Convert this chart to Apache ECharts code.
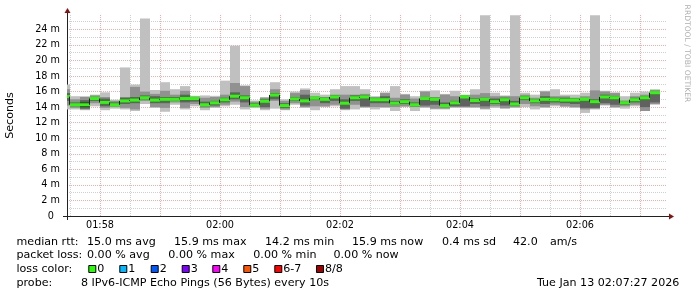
<!DOCTYPE html>
<html><head><meta charset="utf-8">
<script src="https://cdn.jsdelivr.net/npm/echarts@6/dist/echarts.min.js"></script>
<style>html,body{margin:0;padding:0;background:#fff}#c{width:697px;height:297px}</style>
</head><body><div id="c"></div>
<script>
// ---- data (SmokePing: 8 sorted ping RTTs per 10 s step, in ms) ----
const firstBarStart = '01:57:20';
const stepSec = 10;
const windowStart = '01:57:27';
const windowEnd = '02:07:27';
const ping1 = [13.7,13.7,13.6,14.1,13.6,13.8,13.7,13.5,14.4,13.9, 13.4,14.3,13.7,14.1,13.6,13.9,14.1,14.3,13.7,13.9, 13.6,13.8,13.6,14.3,13.9,13.6,14.0,14.1,13.6,13.7, 13.9,13.7,13.9,13.5,14.0,13.5,13.9,13.7,13.7,13.9, 13.9,13.9,13.7,13.9,13.8,13.9,14.0,13.7,13.9,14.1, 14.0,13.9,13.25,13.7,14.2,13.9,13.8,14.1,13.5,14.3];
const ping2 = [14.2,13.9,13.7,14.5,13.9,14.0,13.9,13.7,14.8,14.0, 13.9,14.6,13.9,14.4,13.9,14.0,14.3,14.7,14.0,14.0, 13.8,14.8,13.7,14.5,14.0,14.1,14.1,14.3,13.7,14.3, 14.0,14.0,14.0,14.0,14.1,14.0,14.0,13.8,13.8,14.0, 14.0,14.0,13.8,14.1,13.85,14.0,14.4,14.1,14.0,14.3, 14.1,14.0,13.7,13.8,14.3,14.0,14.1,14.3,13.5,14.4];
const ping3 = [14.8,14.1,13.8,14.8,14.1,14.2,14.4,14.5,15.0,14.5, 14.5,14.8,14.6,14.7,14.1,14.2,14.6,15.0,14.6,14.1, 14.0,15.0,13.9,14.8,14.2,14.9,14.5,14.8,13.8,14.8, 14.1,14.5,14.5,14.3,14.4,14.1,14.2,14.3,14.0,14.1, 14.1,14.4,14.1,14.4,14.2,14.2,14.9,14.5,14.4,14.6, 14.5,14.4,13.9,13.9,14.5,14.3,14.3,14.6,14.0,14.6];
const ping4 = [15.2,14.2,14.0,15.0,14.4,14.25,14.7,14.8,15.1,14.8, 14.9,14.95,14.9,15.0,14.25,14.45,14.9,15.3,15.1,14.2, 14.7,15.45,14.1,15.0,14.7,15.1,14.9,15.2,14.4,15.1, 15.2,14.9,14.9,14.45,14.6,14.2,15.0,14.9,14.1,14.5, 15.2,14.8,14.9,14.6,14.9,14.35,15.15,14.75,14.9,14.9, 14.85,14.85,14.9,14.6,15.2,15.1,14.5,14.9,15.1,15.8];
const ping5 = [15.5,14.4,14.6,15.15,14.8,14.35,14.9,15.0,15.3,15.0, 15.1,15.1,15.2,15.15,14.4,14.65,15.0,15.5,15.3,14.3, 14.85,15.6,14.3,15.15,14.9,15.2,15.05,15.4,14.6,15.3, 15.4,15.0,15.0,14.6,14.8,14.4,15.2,15.1,14.3,14.6, 15.35,14.9,15.1,14.8,15.0,14.5,15.25,14.9,15.05,15.0, 15.0,14.95,15.05,14.8,15.4,15.3,14.6,15.0,15.3,15.9];
const ping6 = [15.8,14.6,14.9,15.3,15.1,14.6,15.2,15.3,15.5,15.4, 15.3,15.3,15.6,15.25,14.7,14.8,15.2,15.9,15.5,14.5, 15.0,15.8,14.5,15.3,15.6,15.3,15.2,15.5,15.0,15.5, 15.5,15.1,15.4,14.8,15.0,14.6,15.3,15.2,14.6,14.8, 15.45,15.1,15.2,15.1,15.2,14.8,15.4,15.0,15.4,15.2, 15.2,15.1,15.1,15.0,15.6,15.4,14.7,15.2,15.4,16.0];
const ping7 = [16.3,15.0,15.3,15.5,15.3,14.8,15.3,16.6,16.0,15.7, 16.1,15.6,16.1,15.35,15.2,15.3,15.6,17.1,16.7,14.7, 15.2,16.3,14.8,15.8,16.2,15.4,15.3,15.6,15.6,15.6, 15.7,15.3,15.8,15.2,15.6,15.1,16.0,15.3,15.6,15.4, 15.5,15.6,15.8,15.4,15.4,15.4,15.6,15.2,16.0,15.4, 15.4,15.2,15.4,16.15,16.0,15.8,14.85,15.4,15.6,16.2];
const ping8 = [16.9,15.4,15.4,15.6,15.9,14.95,19.1,16.9,25.4,16.2, 17.2,16.3,16.7,15.45,15.5,15.45,17.4,21.9,16.8,14.85, 15.3,17.2,15.0,16.0,16.4,15.85,15.6,16.3,16.7,16.7, 16.3,15.4,15.9,16.7,15.7,15.4,16.1,16.15,15.7,16.1, 15.6,16.3,25.8,15.85,15.5,25.8,15.85,15.6,16.1,16.3, 15.6,15.6,15.85,25.8,16.1,15.9,15.4,15.85,16.0,16.3];
const median = [15.35,14.3,14.3,15.1,14.6,14.3,14.8,14.9,15.2,14.9, 15.0,15.0,15.1,15.1,14.3,14.55,14.95,15.4,15.2,14.25, 14.75,15.55,14.2,15.05,14.8,15.15,15.0,15.3,14.5,15.2, 15.3,14.95,14.95,14.5,14.7,14.3,15.1,15.0,14.2,14.55, 15.3,14.85,15.0,14.7,14.95,14.4,15.2,14.8,15.0,14.95, 14.9,14.9,15.0,14.7,15.3,15.2,14.55,14.95,15.2,15.85];

const yTicks = [0,2,4,6,8,10,12,14,16,18,20,22,24];
const yMinorTicks = [1,3,5,7,9,11,13,15,17,19,21,23,25];
const xTickLabels = ['01:58','02:00','02:02','02:04','02:06'];
const rttLabel = 'median rtt:';
const rttStats = ['15.0 ms avg','15.9 ms max','14.2 ms min','15.9 ms now','0.4 ms sd','42.0','am/s'];
const lossLabel = 'packet loss:';
const lossStats = ['0.00 % avg','0.00 % max','0.00 % min','0.00 % now'];
const lossColorLabel = 'loss color:';
const lossLabels = ['0','1','2','3','4','5','6-7','8/8'];
const lossColors = ['#26ff00','#00b8ff','#0059ff','#7e00ff','#ff00ff','#ff5500','#ff0000','#a10000'];
const probeLabel = 'probe:';
const probeText = '8 IPv6-ICMP Echo Pings (56 Bytes) every 10s';
const stampText = 'Tue Jan 13 02:07:27 2026';
const watermark = 'RRDTOOL / TOBI OETIKER';

// ---- helpers ----
function toSec(s){const p=s.split(':').map(Number);return p[0]*3600+p[1]*60+(p[2]||0);}
function fmtHM(sec){const h=Math.floor(sec/3600),m=Math.floor(sec%3600/60);return String(h).padStart(2,'0')+':'+String(m).padStart(2,'0');}
const t0 = toSec(firstBarStart);
const xMin = toSec(windowStart), xMax = toSec(windowEnd);
const majorX = []; for (let t=Math.ceil(xMin/60)*60; t<=xMax; t+=60) majorX.push(t);
const minorX = []; for (let t=Math.floor(xMin/60)*60+30; t<=xMax; t+=60) if (t>=xMin) minorX.push(t);
const labelX = xTickLabels.map(toSec);
const pings = [ping1,ping2,ping3,ping4,ping5,ping6,ping7,ping8];
const data = median.map((m,i)=>[t0+i*stepSec, t0+(i+1)*stepSec].concat(pings.map(p=>p[i])).concat([m]));

const FONT = '"DejaVu Sans", sans-serif';
const MAJOR = 'rgba(235,115,115,0.6)';
const MINOR = 'rgba(175,175,175,0.6)';
const AXIS = '#212121';
const ARROW = '#8b1010';
const smokeColors = ['#c0c0c0','#919191','#616161','#323232'];
const yMax = 25.84;

function renderItem(params, api){
  const i = params.dataIndex;
  const s = Math.max(api.value(0), xMin), e = Math.min(api.value(1), xMax);
  const x0 = api.coord([s,0])[0], x1 = api.coord([e,0])[0];
  const ch = [];
  for (let k=0;k<4;k++){
    const lo = api.value(2+k), hi = api.value(9-k);
    const yl = api.coord([s,lo])[1], yh = api.coord([s,hi])[1];
    ch.push({type:'rect', shape:{x:x0,y:yh,width:x1-x0,height:yl-yh}, style:{fill:smokeColors[k]}});
  }
  const ym = api.coord([s, api.value(10)])[1];
  if (i>0){
    const yp = api.coord([s, median[i-1]])[1];
    ch.push({type:'line', shape:{x1:x0-0.5,y1:yp,x2:x0-0.5,y2:ym}, style:{stroke:'#202020',lineWidth:1}});
  }
  ch.push({type:'rect', shape:{x:x0,y:ym-1.5,width:x1-x0,height:3}, style:{fill:lossColors[0]}});
  return {type:'group', children:ch};
}

// legend graphics
const g = [];
function txt(x,y,t,opt){g.push(Object.assign({type:'text', x:x, y:y, silent:true, style:{text:t, fill:'#000', fontSize:11.1, fontFamily:FONT, verticalAlign:'middle', align:'left'}}, opt||{}));}
const L1=241.7, L2=255.3, L3=269, L4=282.7;
txt(16.5,L1,rttLabel);
[87,174,265,352,442,513,550].forEach((x,k)=>txt(x,L1,rttStats[k]));
txt(16.5,L2,lossLabel);
[87,168.3,253.3,333.5].forEach((x,k)=>txt(x,L2,lossStats[k]));
txt(16.5,L3,lossColorLabel);
[88.3,119.3,150.7,181.7,212.3,243.3,274.3,316].forEach((x,k)=>{
  g.push({type:'rect', silent:true, shape:{x:x+0.5,y:265.5,width:7,height:7}, style:{fill:lossColors[k], stroke:'#000', lineWidth:1}});
  txt(x+9,L3,lossLabels[k]);
});
txt(16.5,L4,probeLabel);
txt(81,L4,probeText);
txt(537,L4,stampText);
g.push({type:'text', x:687, y:53.5, rotation:-Math.PI/2, silent:true, style:{text:watermark, fill:'#b0b0b0', fontSize:7.6, fontFamily:FONT, align:'center', verticalAlign:'middle'}});
// axis extensions & arrows (rrdtool style)
g.push({type:'line', silent:true, shape:{x1:63,y1:216.5,x2:67,y2:216.5}, style:{stroke:AXIS,lineWidth:1}});
g.push({type:'line', silent:true, shape:{x1:667,y1:216.5,x2:671,y2:216.5}, style:{stroke:AXIS,lineWidth:1}});
g.push({type:'line', silent:true, shape:{x1:67.5,y1:216,x2:67.5,y2:220}, style:{stroke:AXIS,lineWidth:1}});
g.push({type:'line', silent:true, shape:{x1:67.5,y1:11,x2:67.5,y2:15}, style:{stroke:AXIS,lineWidth:1}});
g.push({type:'polygon', silent:true, shape:{points:[[669,213.5],[669,219.5],[674,216.5]]}, style:{fill:ARROW}});
g.push({type:'polygon', silent:true, shape:{points:[[64.5,13],[70.5,13],[67.5,8]]}, style:{fill:ARROW}});

const chart = echarts.init(document.getElementById('c'), null, {renderer:'canvas', width:697, height:297});
chart.setOption({
  animation:false,
  backgroundColor:'#ffffff',
  grid:{left:67, top:15, width:600, height:201, containLabel:false, outerBoundsMode:'none'},
  xAxis:[{
    type:'value', min:xMin, max:xMax, position:'bottom',
    axisLine:{show:true, lineStyle:{color:AXIS,width:1}},
    axisTick:{show:false, customValues:majorX},
    axisLabel:{customValues:labelX, formatter:v=>fmtHM(v), margin:4, fontSize:9.7, fontFamily:FONT, color:'#000'},
    splitLine:{show:true, lineStyle:{color:MAJOR, width:1, type:[1,1]}}
  },{
    type:'value', min:xMin, max:xMax, position:'top',
    axisLine:{show:false}, axisLabel:{show:false},
    axisTick:{show:false, customValues:minorX},
    splitLine:{show:true, lineStyle:{color:MINOR, width:1, type:[1,1]}}
  }],
  yAxis:[{
    type:'value', min:0, max:yMax,
    name:'Seconds', nameLocation:'middle', nameGap:51.5, nameRotate:90,
    nameTextStyle:{fontSize:11.1, fontFamily:FONT, color:'#000'},
    axisLine:{show:true, lineStyle:{color:AXIS,width:1}},
    axisTick:{show:false, customValues:yTicks},
    axisLabel:{customValues:yTicks, formatter:v=>v===0?'0  ':(v+' m'), margin:7, fontSize:9.7, fontFamily:FONT, color:'#000'},
    splitLine:{show:true, lineStyle:{color:MAJOR, width:1, type:[1,1]}}
  },{
    type:'value', min:0, max:yMax, position:'right',
    axisLine:{show:false}, axisLabel:{show:false},
    axisTick:{show:false, customValues:yMinorTicks},
    splitLine:{show:true, lineStyle:{color:MINOR, width:1, type:[1,1]}}
  }],
  series:[{
    type:'custom', xAxisIndex:0, yAxisIndex:0, clip:true,
    renderItem:renderItem,
    encode:{x:[0,1], y:[2,3,4,5,6,7,8,9,10]},
    data:data
  }],
  graphic:g
});
</script></body></html>
